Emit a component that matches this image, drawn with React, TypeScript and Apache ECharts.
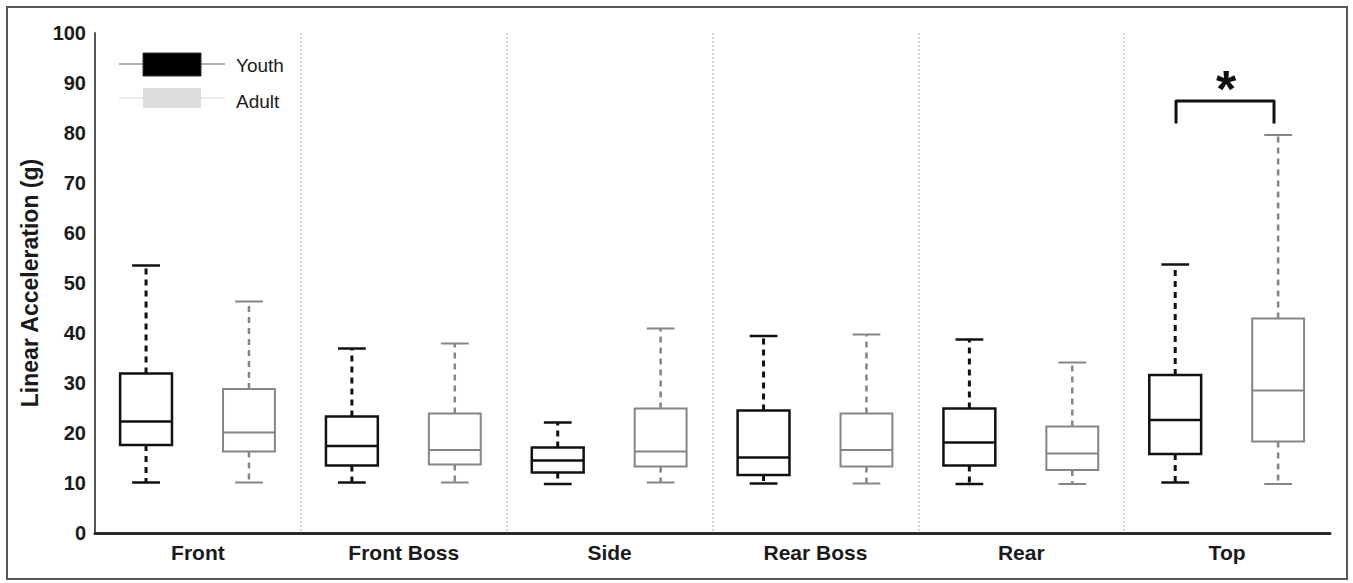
import React, { useEffect, useRef } from "react";
import * as echarts from "echarts";

const categories = ["Front", "Front Boss", "Side", "Rear Boss", "Rear", "Top"];
// [min, Q1, median, Q3, max]
const youth = [
  [10.1, 17.6, 22.3, 31.9, 53.5],
  [10.1, 13.5, 17.4, 23.3, 36.9],
  [9.8, 12.1, 14.5, 17.1, 22.1],
  [9.9, 11.6, 15.1, 24.5, 39.4],
  [9.8, 13.5, 18.1, 24.9, 38.7],
  [10.1, 15.8, 22.6, 31.6, 53.7],
];
const adult = [
  [10.1, 16.3, 20.1, 28.8, 46.3],
  [10.1, 13.7, 16.6, 23.9, 37.9],
  [10.1, 13.3, 16.3, 24.9, 40.9],
  [9.9, 13.3, 16.6, 23.9, 39.7],
  [9.8, 12.6, 15.9, 21.3, 34.1],
  [9.8, 18.3, 28.5, 42.9, 79.6],
];
// significance bracket: [category index, bottom, top]
const bracket = [[5, 81.9, 86.4]];
const yTicks = { min: 0, max: 100, interval: 10 };

const FONT = "'Liberation Sans', Arial, sans-serif";

function makeBoxRender(offsetFrac: number, color: string, lw: number, wlw: number) {
  return (params: any, api: any) => {
    const ci = api.value(0);
    const band = api.size([1, 0])[0];
    const c = api.coord([ci, 0]);
    const cx = c[0] + offsetFrac * band;
    const y = (v: number) => api.coord([ci, v])[1];
    const yMin = y(api.value(1));
    const yQ1 = y(api.value(2));
    const yMed = y(api.value(3));
    const yQ3 = y(api.value(4));
    const yMax = y(api.value(5));
    const bw = band * 0.252;
    const cw = band * 0.135;
    const solid = { stroke: color, lineWidth: lw, fill: "none" };
    const dashed = { stroke: color, lineWidth: wlw, lineDash: [6, 5], fill: "none" };
    return {
      type: "group",
      children: [
        { type: "line", shape: { x1: cx, y1: yQ3, x2: cx, y2: yMax }, style: dashed },
        { type: "line", shape: { x1: cx, y1: yQ1, x2: cx, y2: yMin }, style: dashed },
        { type: "line", shape: { x1: cx - cw / 2, y1: yMax, x2: cx + cw / 2, y2: yMax }, style: solid },
        { type: "line", shape: { x1: cx - cw / 2, y1: yMin, x2: cx + cw / 2, y2: yMin }, style: solid },
        {
          type: "rect",
          shape: { x: cx - bw / 2, y: yQ3, width: bw, height: yQ1 - yQ3 },
          style: { stroke: color, lineWidth: lw, fill: "#fff" },
        },
        { type: "line", shape: { x1: cx - bw / 2, y1: yMed, x2: cx + bw / 2, y2: yMed }, style: solid },
      ],
    };
  };
}

function renderBracket(params: any, api: any) {
  const ci = api.value(0);
  const band = api.size([1, 0])[0];
  const c = api.coord([ci, 0]);
  const yb = api.coord([ci, api.value(1)])[1];
  const yt = api.coord([ci, api.value(2)])[1];
  const x1 = c[0] - 0.248 * band;
  const x2 = c[0] + 0.228 * band;
  return {
    type: "group",
    children: [
      {
        type: "polyline",
        shape: { points: [[x1, yb], [x1, yt], [x2, yt], [x2, yb]] },
        style: { stroke: "#111", lineWidth: 3, fill: "none", lineJoin: "round" },
      },
      {
        type: "text",
        x: (x1 + x2) / 2 + 1,
        y: yt + 14,
        style: {
          text: "*",
          font: `bold 52px ${FONT}`,
          fill: "#111",
          align: "center",
          verticalAlign: "bottom",
        },
      },
    ],
  };
}

export default function App() {
  const ref = useRef<HTMLDivElement>(null);
  useEffect(() => {
    const chart = echarts.init(ref.current!, null, { renderer: "svg" });
    const youthData = youth.map((d, i) => [i, ...d]);
    const adultData = adult.map((d, i) => [i, ...d]);
    chart.setOption({
      animation: false,
      textStyle: { fontFamily: FONT },
      grid: { left: 95, right: 23, top: 33, bottom: 50, containLabel: false },
      xAxis: {
        type: "category",
        data: categories,
        boundaryGap: true,
        axisLine: { show: true, lineStyle: { color: "#2a2a2a", width: 3 } },
        axisTick: { show: false },
        axisLabel: { color: "#1a1a1a", fontWeight: "bold", fontSize: 21, margin: 9, fontFamily: FONT },
        splitLine: {
          show: true,
          showMinLine: false,
          showMaxLine: false,
          lineStyle: { color: "#c8c8c8", type: [2, 2], width: 1.5 },
        },
      },
      yAxis: {
        type: "value",
        min: yTicks.min,
        max: yTicks.max,
        interval: yTicks.interval,
        name: "Linear Acceleration (g)",
        nameLocation: "middle",
        nameGap: 46,
        nameTextStyle: { fontWeight: "bold", fontSize: 23, color: "#1a1a1a", fontFamily: FONT },
        axisLine: { show: true, lineStyle: { color: "#555", width: 2 } },
        axisTick: { show: false },
        axisLabel: { color: "#1a1a1a", fontWeight: "bold", fontSize: 20, margin: 9, fontFamily: FONT },
        splitLine: { show: false },
      },
      series: [
        {
          type: "custom",
          name: "Youth",
          renderItem: makeBoxRender(-0.252, "#111", 2.5, 3),
          encode: { x: 0, y: [1, 2, 3, 4, 5] },
          data: youthData,
          z: 3,
        },
        {
          type: "custom",
          name: "Adult",
          renderItem: makeBoxRender(0.248, "#858585", 2, 2.5),
          encode: { x: 0, y: [1, 2, 3, 4, 5] },
          data: adultData,
          z: 3,
        },
        {
          type: "custom",
          name: "Significance",
          renderItem: renderBracket,
          encode: { x: 0, y: [1, 2] },
          data: bracket,
          z: 4,
        },
      ],
      graphic: [
        {
          type: "rect",
          shape: { x: 7, y: 7, width: 1340, height: 572 },
          style: { stroke: "#555", lineWidth: 2, fill: "none" },
          z: 10,
        },
        { type: "line", shape: { x1: 119, y1: 64, x2: 225, y2: 64 }, style: { stroke: "#999", lineWidth: 1.5 } },
        { type: "rect", shape: { x: 143, y: 53, width: 58, height: 23 }, style: { fill: "#000", stroke: "#333", lineWidth: 1 } },
        { type: "line", shape: { x1: 119, y1: 98, x2: 225, y2: 98 }, style: { stroke: "#e6e6e6", lineWidth: 1.5 } },
        { type: "rect", shape: { x: 143, y: 88, width: 58, height: 20 }, style: { fill: "#dcdcdc" } },
        {
          type: "text",
          x: 236,
          y: 65,
          style: { text: "Youth", font: `19px ${FONT}`, fill: "#1a1a1a", verticalAlign: "middle" },
        },
        {
          type: "text",
          x: 236,
          y: 101,
          style: { text: "Adult", font: `19px ${FONT}`, fill: "#1a1a1a", verticalAlign: "middle" },
        },
      ],
    });
    return () => chart.dispose();
  }, []);
  return (
    <div
      ref={ref}
      style={{ position: "fixed", left: 0, top: 0, width: 1353, height: 583, background: "#fff" }}
    />
  );
}
